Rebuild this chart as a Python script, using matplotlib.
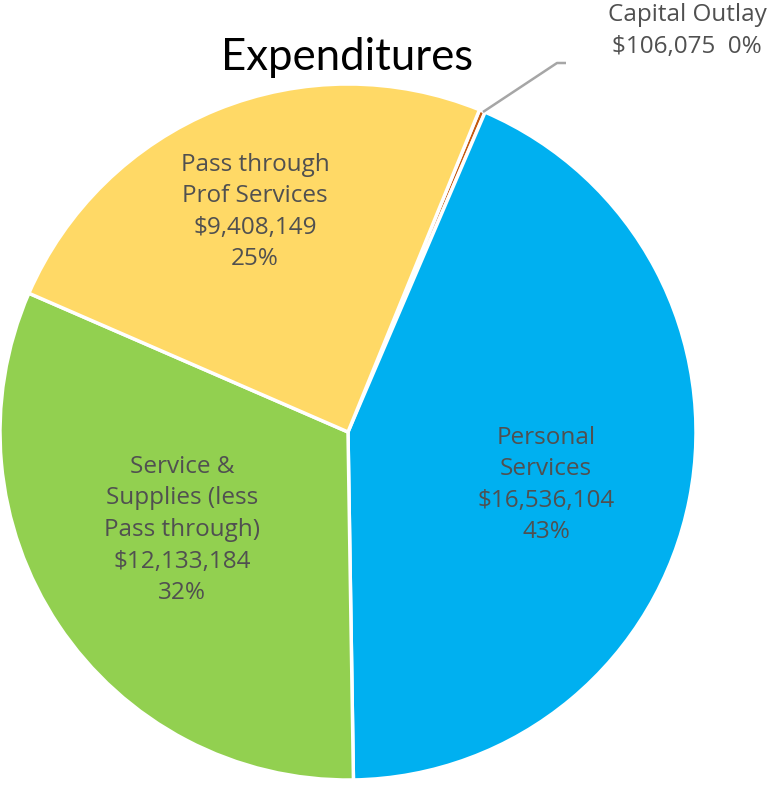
import matplotlib
matplotlib.use("Agg")
import matplotlib.pyplot as plt

# Expenditure categories and amounts
categories = ["Capital Outlay", "Personal\nServices", "Service &\nSupplies (less\nPass through)", "Pass through\nProf Services"]
amounts = [106075, 16536104, 12133184, 9408149]
colors = ["#C55A11", "#00B0F0", "#92D050", "#FFD966"]

W, H = 769, 785
fig = plt.figure(figsize=(W / 100, H / 100), dpi=100)
ax = fig.add_axes([0, 0, 1, 1])

cx, cy, r = 348, H - 432, 348
total = sum(amounts)

ax.pie(amounts, colors=colors, startangle=67.8, counterclock=False,
       center=(cx, cy), radius=r,
       wedgeprops=dict(edgecolor="white", linewidth=2.5),
       frame=True)
ax.set_xlim(0, W)
ax.set_ylim(0, H)
ax.set_aspect("equal")
ax.axis("off")

label_font = dict(family=["Open Sans", "DejaVu Sans"], fontsize=17.5, color="#505050",
                  ha="center", va="center", linespacing=1.42)

def fmt(i):
    pct = round(amounts[i] / total * 100)
    return f"${amounts[i]:,}", f"{pct}%"

# Labels inside the larger slices
positions = {1: (546, H - 485), 2: (182, H - 530), 3: (255, H - 212)}
for i, (x, y) in positions.items():
    val, pct = fmt(i)
    ax.text(x, y, f"{categories[i]}\n{val}\n{pct}", **label_font)

# Capital outlay label with leader line
val, pct = fmt(0)
ax.text(687, H - 31, f"{categories[0]}\n{val}  {pct}", **label_font)
ax.plot([483, 557, 566], [H - 112, H - 63, H - 63], color="#A6A6A6", lw=1.8,
        solid_capstyle="butt")

ax.text(347, H - 57, "Expenditures", family=["Lato", "DejaVu Sans"], fontsize=31.5,
        color="black", ha="center", va="center")

fig.savefig("out.png", dpi=100)
